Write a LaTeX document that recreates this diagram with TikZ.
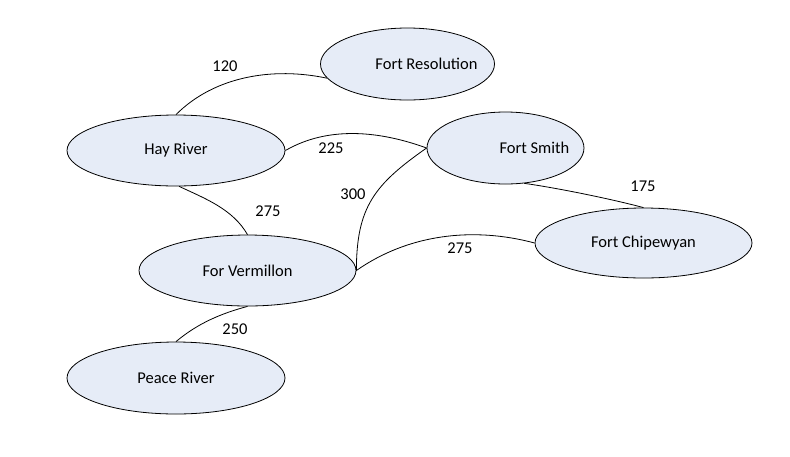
\documentclass[tikz,border=0pt]{standalone}
\usepackage{fontspec}
\setmainfont{Carlito}
\usetikzlibrary{shapes.geometric}
\definecolor{nodefill}{RGB}{230,236,247}
\begin{document}
\begin{tikzpicture}[x=1pt,y=-1pt,
  font=\fontsize{16.5}{20}\selectfont,
  city/.style={ellipse, draw=black, line width=0.8pt, fill=nodefill, inner sep=0pt},
  road/.style={draw=black, line width=0.8pt},
  dist/.style={inner sep=0pt, text=black}]
\useasboundingbox[fill=white] (0,0) rectangle (790,456);
\node[city, minimum width=174pt, minimum height=72pt] (res) at (407.5,64) {\makebox[0pt]{\hspace{38pt}Fort Resolution}};
\node[city, minimum width=218pt, minimum height=71pt] (hay) at (176,150.5) {Hay River};
\node[city, minimum width=157pt, minimum height=72pt] (smith) at (505.5,148) {\makebox[0pt]{\hspace{58pt}Fort Smith}};
\node[city, minimum width=217pt, minimum height=70pt] (chip) at (643.5,243) {Fort Chipewyan};
\node[city, minimum width=217pt, minimum height=71pt] (verm) at (247.5,270.5) {For Vermillon};
\node[city, minimum width=218pt, minimum height=72pt] (peace) at (176,378) {Peace River};

\draw[road] (hay.90) to[out=45, in=168, looseness=0.9] (res.190);
\draw[road] (hay.east) to[out=30, in=160, looseness=0.9] (smith.west);
\draw[road] (verm.east) to[out=90, in=215, looseness=1.15] (smith.west);
\draw[road] (hay.-85) to[out=-25, in=120, looseness=0.9] (verm.north);
\draw[road] (verm.east) to[out=35, in=165, looseness=0.9] (chip.west);
\draw[road] (smith.-62) to[out=-8, in=165, looseness=0.7] (chip.north);
\draw[road] (verm.south) to[out=195, in=40, looseness=0.9] (peace.north);

\node[dist] (d1) at (225,66) {120};
\node[dist] (d2) at (331,148) {225};
\node[dist] (d3) at (353,194) {300};
\node[dist] (d4) at (268,211) {275};
\node[dist] (d5) at (460,248) {275};
\node[dist] (d6) at (643,186) {175};
\node[dist] (d7) at (235,329) {250};
\end{tikzpicture}
\end{document}
